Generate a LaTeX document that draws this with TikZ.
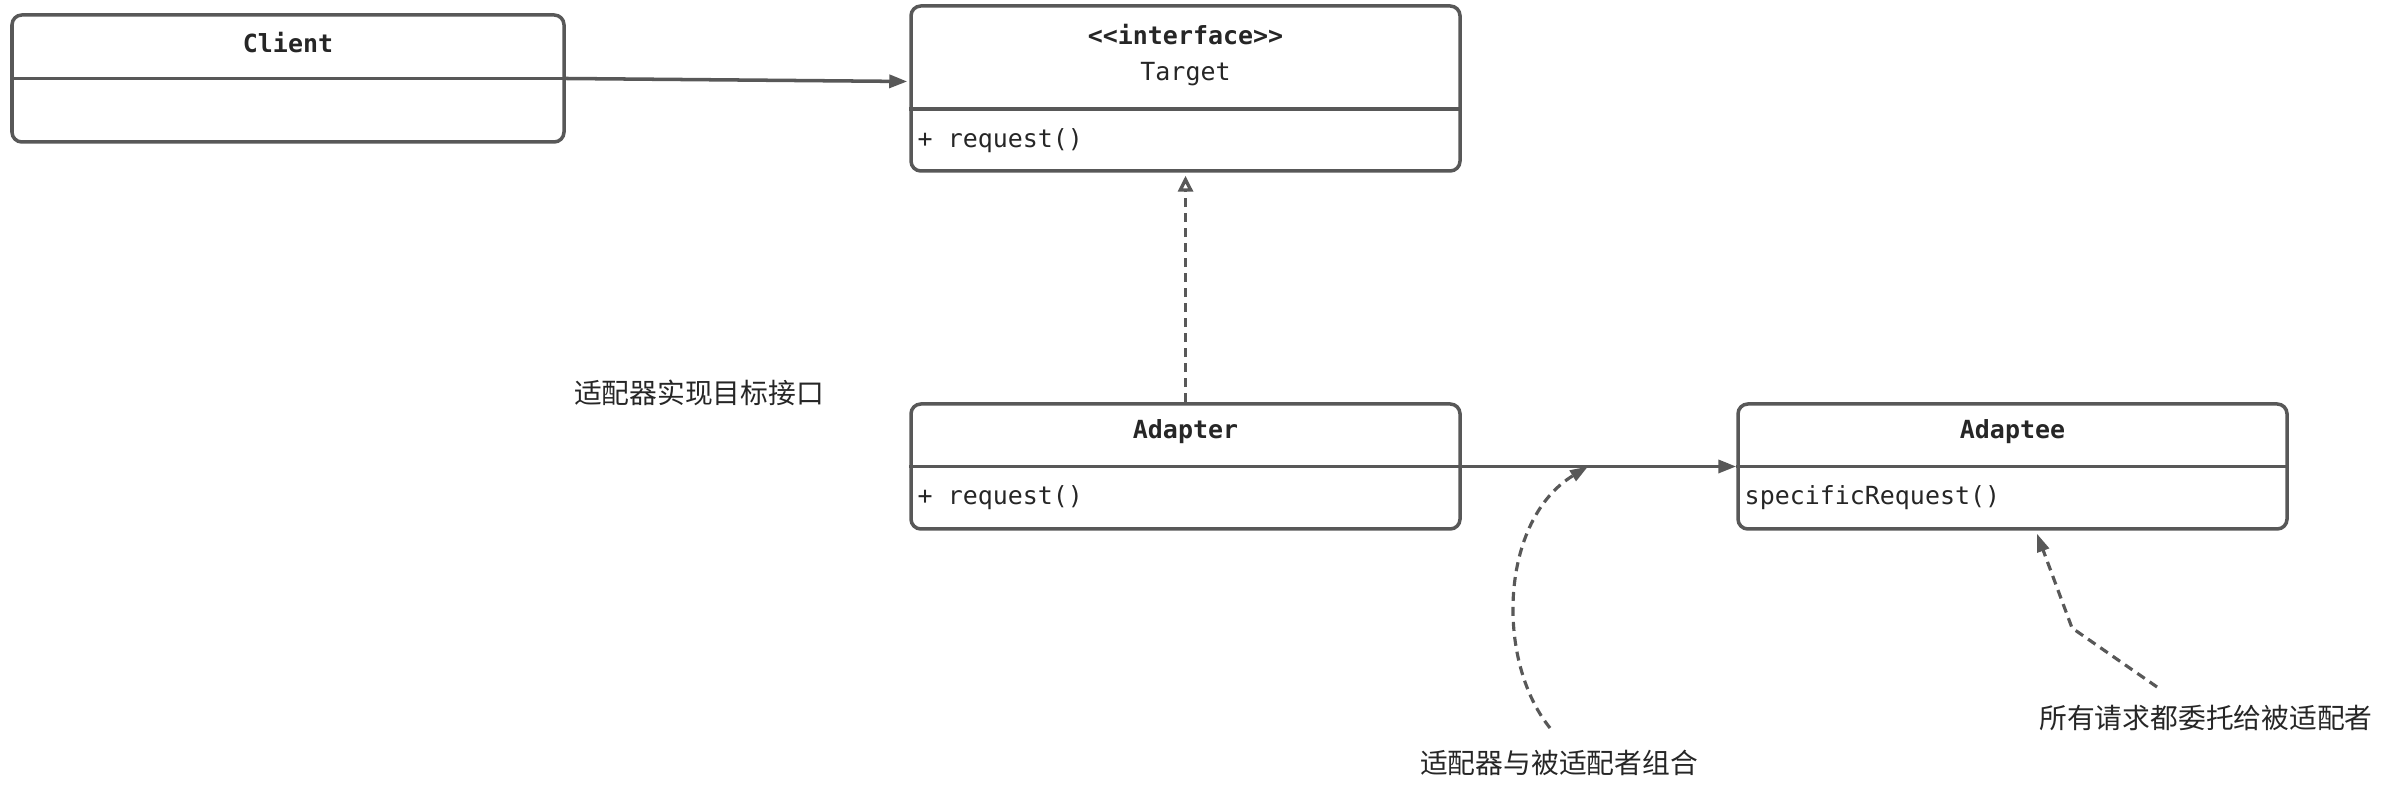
\documentclass[tikz,border=0pt]{standalone}
\usepackage{fontspec}
\setmonofont{DejaVu Sans Mono}
\newfontfamily\cjk{Noto Sans CJK SC}
\usetikzlibrary{positioning, arrows.meta, calc}
\definecolor{ln}{RGB}{88,88,88}
\definecolor{tx}{RGB}{38,38,38}

\begin{document}
\begin{tikzpicture}[
      cls/.style={draw=ln, line width=1pt, rounded corners=2.8pt, minimum width=5.49cm, inner sep=0pt},
      hd/.style={text=tx, font=\fontsize{7.1}{8.5}\selectfont\ttfamily\bfseries, inner sep=0pt},
      mbr/.style={text=tx, font=\fontsize{7.1}{8.5}\selectfont\ttfamily, inner sep=0pt, anchor=west},
      note/.style={text=tx, font=\fontsize{7.9}{9.5}\selectfont\cjk, inner sep=0pt},
      sep/.style={draw=ln, line width=1pt},
      arr/.style={draw=ln, line width=1pt, -{Triangle[length=0.18cm, width=0.13cm]}},
      real/.style={draw=ln, line width=0.95pt, dash pattern=on 0.09cm off 0.06cm, -{Triangle[open, length=0.16cm, width=0.15cm, line width=0.95pt]}},
      dsh/.style={draw=ln, line width=0.9pt, dash pattern=on 0.09cm off 0.06cm, -{Triangle[length=0.18cm, width=0.12cm]}}]
      \useasboundingbox (0,0) rectangle (23.97,-8.01);
      % classes
      \node[cls, minimum width=5.52cm, minimum height=1.27cm] (client) at (2.88,-0.785) {};
      \node[cls, minimum height=1.65cm] (target)  at (11.855,-0.885) {};
      \node[cls, minimum height=1.25cm] (adapter) at (11.855,-4.665) {};
      \node[cls, minimum height=1.25cm] (adaptee) at (20.125,-4.665) {};
      \draw[sep] (client.west) -- (client.east);
      \draw[sep] (target.west |- 0,-1.09) -- (target.east |- 0,-1.09);
      \draw[sep] (adapter.west) -- (adapter.east);
      \draw[sep] (adaptee.west) -- (adaptee.east);
      \node[hd] (clientname) at (2.88,-0.43) {Client};
      \node[hd] (stereo) at (11.855,-0.345) {<{}<interface>{}>};
      \node[hd, font=\fontsize{7.1}{8.5}\selectfont\ttfamily] (targetname) at (11.855,-0.74) {Target};
      \node[mbr] (treq) at (9.17,-1.41) {+ request()};
      \node[hd] (adaptername) at (11.855,-4.32) {Adapter};
      \node[mbr] (areq) at (9.17,-4.98) {+ request()};
      \node[hd] (adapteename) at (20.125,-4.32) {Adaptee};
      \node[mbr] (sreq) at (17.44,-4.98) {specificRequest()};
      % relations
      \draw[arr] (client.east) -- ($(target.west)+(-0.02,0.07)$);
      \draw[real] (adapter.north) -- ($(target.south)+(0,-0.03)$);
      \draw[arr] (adapter.east) -- (adaptee.west);
      % notes
      \node[note] (n1) at (6.99,-3.93) {适配器实现目标接口};
      \node[note] (n2) at (15.59,-7.63) {适配器与被适配者组合};
      \node[note] (n3) at (22.06,-7.18) {所有请求都委托给被适配者};
      \coordinate (c1) at (15.50,-7.28);
      \coordinate (c2) at (21.57,-6.87);
      \coordinate (k2) at (20.72,-6.28);
      \draw[dsh] (c1) .. controls (14.95,-6.6) and (15.0,-5.2) .. ($(adapter.east)!0.46!(adaptee.west)$);
      \draw[dsh] (c2) -- (k2) -- ($(adaptee.south)+(0.245,-0.03)$);
    \end{tikzpicture}
\end{document}
